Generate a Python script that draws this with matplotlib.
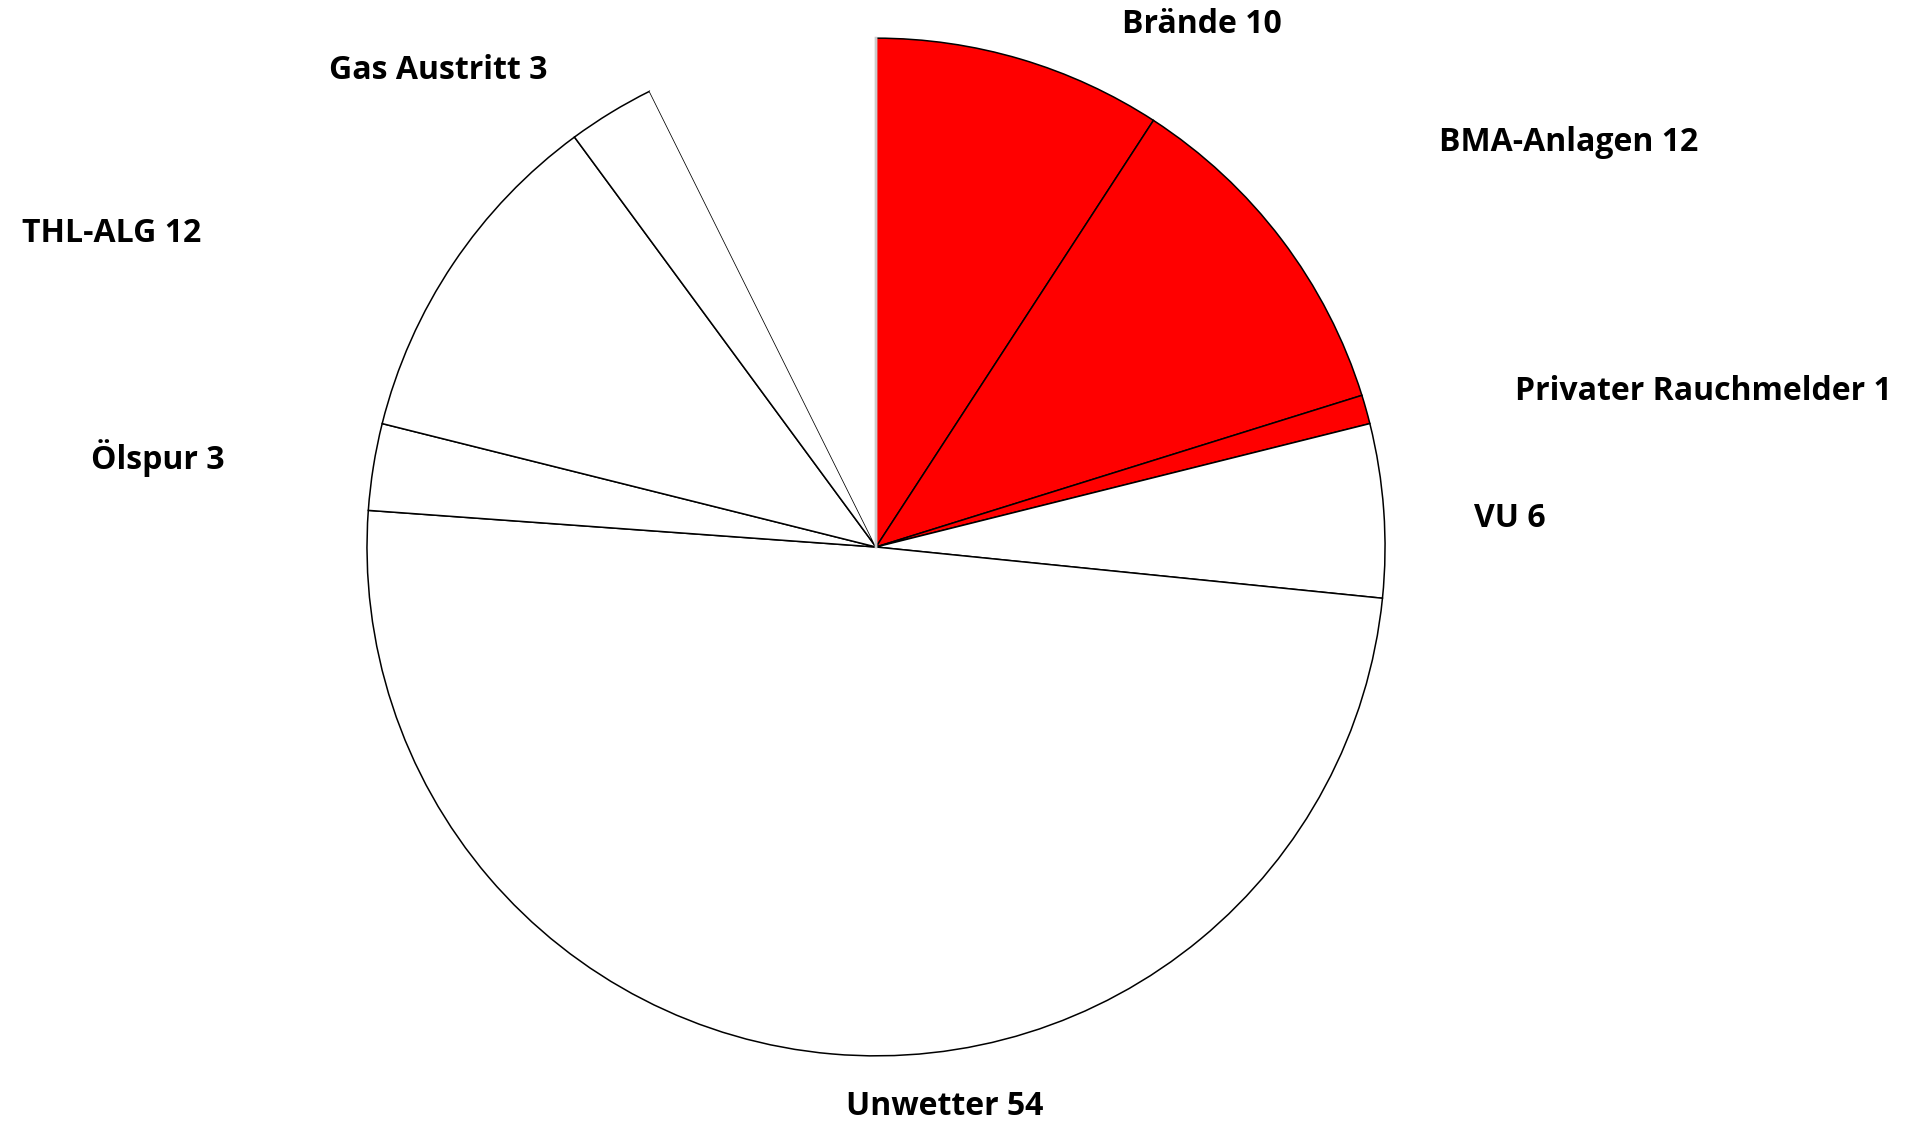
import numpy as np
import matplotlib.pyplot as plt

# Daten
kategorien = ['Brände', 'BMA-Anlagen', 'Privater Rauchmelder', 'VU', 'Unwetter',
              'Ölspur', 'THL-ALG', 'Gas Austritt', '']
werte = [10, 12, 1, 6, 54, 3, 12, 3, 8]
farben = ['#ff0000', '#ff0000', '#ff0000', 'white', 'white',
          'white', 'white', 'white', 'white']

# Position der Beschriftungen (Datenkoordinaten, Radius = 1)
label_pos = [(0.640, 1.027), (1.361, 0.794), (1.625, 0.305), (1.246, 0.057),
             (0.134, -1.100), (-1.411, 0.175), (-1.501, 0.617), (-0.861, 0.937)]

fig = plt.figure(figsize=(19.19, 11.22), dpi=100)
ax = fig.add_axes([0, 0, 1, 1])

wedges, _ = ax.pie(werte, colors=farben, startangle=90, counterclock=False,
                   radius=1, wedgeprops=dict(edgecolor='black', linewidth=1.1))

# letztes Segment ohne Rand, nur hellgraue Trennlinie
wedges[-1].set_edgecolor('none')
w = wedges[-1]
ang = np.deg2rad(w.theta1)
ax.plot([0, np.cos(ang)], [0, np.sin(ang)], color='#cccccc', lw=2.0, zorder=5)

for i in range(len(label_pos)):
    ax.text(label_pos[i][0], label_pos[i][1], kategorien[i] + ' ' + str(werte[i]),
            ha='center', va='center', fontsize=23, fontweight='bold',
            family=['Open Sans', 'DejaVu Sans'], color='black')

ax.set_xlim(-1.721, 2.049)
ax.set_ylim(-1.130, 1.075)
ax.set_aspect('auto')
ax.axis('off')

plt.savefig('out.png', dpi=100)
